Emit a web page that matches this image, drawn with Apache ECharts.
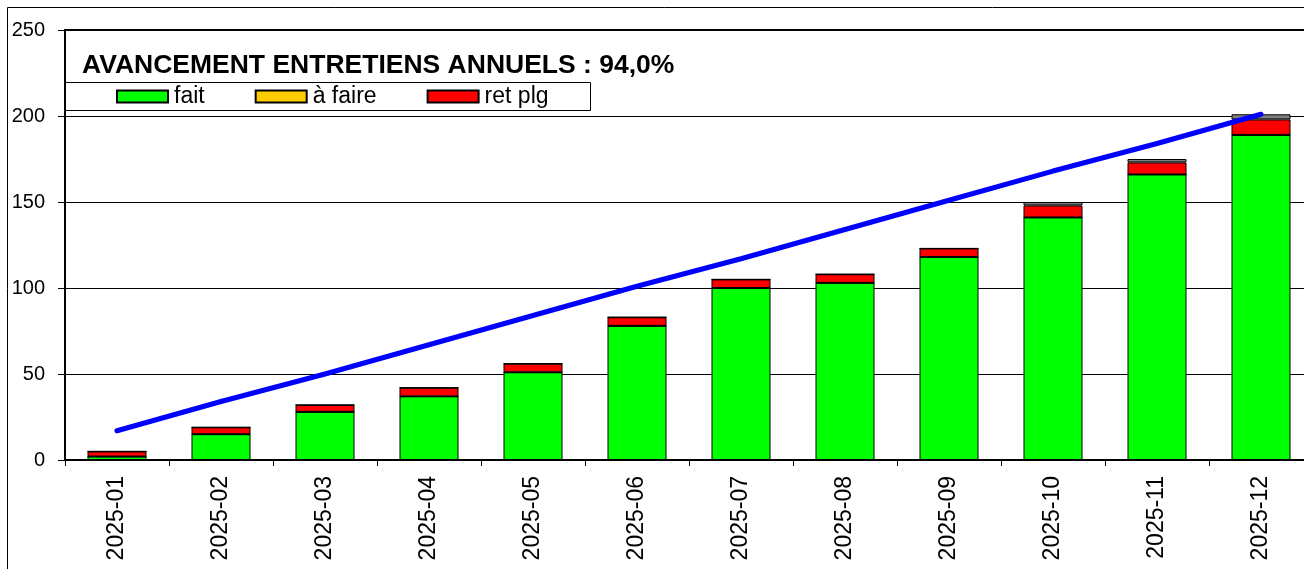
<!DOCTYPE html>
<html>
<head>
<meta charset="utf-8">
<script src="https://cdn.jsdelivr.net/npm/echarts@6/dist/echarts.min.js"></script>
<style>
  html, body { margin: 0; padding: 0; background: #fff; overflow: hidden; }
  /* le graphique déborde à droite comme dans l'original */
  #chart { width: 1320px; height: 569px; }
</style>
</head>
<body>
<div id="chart"></div>
<script>
// données
const mois = ["2025-01", "2025-02", "2025-03", "2025-04", "2025-05", "2025-06",
  "2025-07", "2025-08", "2025-09", "2025-10", "2025-11", "2025-12"];
const fait = [2, 15, 28, 37, 51, 78, 100, 103, 118, 141, 166, 189];
const aFaire = [0, 0, 0, 0, 0, 0, 0, 0, 0, 0, 0, 0];
const retPlg = [3, 4, 4, 5, 5, 5, 5, 5, 5, 7, 7, 9];
const autre = [0, 0, 0, 0, 0, 0, 0, 0, 0, 2, 2, 3];
const objectif = [17, 34, 50, 67, 84, 101, 117, 134, 151, 168, 184, 201];
const yTicks = { min: 0, max: 250, interval: 50 };

const FONT = "Liberation Sans";

const chart = echarts.init(document.getElementById("chart"));

// segment de barre empilée
const barSerie = (name, data, color) => ({
  name: name,
  type: "bar",
  stack: "total",
  data: data,
  barWidth: 59,
  itemStyle: { color: color, borderColor: "#000", borderWidth: 1 },
  emphasis: { disabled: true },
});

const option = {
  backgroundColor: "#fff",
  animation: false,
  textStyle: { fontFamily: FONT },
  title: {
    text: "AVANCEMENT ENTRETIENS ANNUELS : 94,0%",
    left: 82,
    top: 52,
    padding: 0,
    textStyle: { fontFamily: FONT, fontSize: 26.5, fontWeight: "bold", color: "#000" },
  },
  legend: {
    data: ["fait", "à faire", "ret plg"],
    icon: "rect",
    left: 65,
    top: 82,
    padding: [3, 40, 3, 51],
    itemWidth: 51,
    itemHeight: 12,
    itemGap: 50,
    selectedMode: false,
    textStyle: { fontFamily: FONT, fontSize: 23, color: "#000", padding: [0, 0, 0, 1] },
    z: 20,
  },
  graphic: [
    {
      type: "rect",
      shape: { x: 7.5, y: 7.5, width: 1400, height: 700 },
      style: { fill: null, stroke: "#000", lineWidth: 1 },
      silent: true,
      z: -10,
    },
    {
      type: "rect",
      shape: { x: 65.5, y: 82.5, width: 525, height: 28 },
      style: { fill: "#fff", stroke: "#000", lineWidth: 1 },
      silent: true,
      z: 15,
    },
  ],
  grid: {
    left: 65,
    top: 30,
    right: 7,
    bottom: 109,
    show: true,
    borderColor: "#000",
    borderWidth: 2,
    backgroundColor: "transparent",
  },
  xAxis: {
    type: "category",
    data: mois,
    boundaryGap: true,
    axisLine: { lineStyle: { color: "#000", width: 2 } },
    axisTick: { show: true, length: 6, lineStyle: { color: "#000" } },
    axisLabel: {
      rotate: 90,
      margin: 16,
      fontFamily: FONT,
      fontSize: 23,
      color: "#000",
      interval: 0,
    },
  },
  yAxis: {
    type: "value",
    min: yTicks.min,
    max: yTicks.max,
    interval: yTicks.interval,
    axisLine: { show: true, lineStyle: { color: "#000", width: 2 } },
    axisTick: { show: true, length: 7, lineStyle: { color: "#000" } },
    axisLabel: { margin: 20, fontFamily: FONT, fontSize: 20, color: "#000" },
    splitLine: { show: true, lineStyle: { color: "#000", width: 1 } },
  },
  series: [
    barSerie("fait", fait, "#00ff00"),
    barSerie("à faire", aFaire, "#ffcc00"),
    barSerie("ret plg", retPlg, "#ff0000"),
    barSerie("autre", autre, "#808080"),
    {
      name: "objectif",
      type: "line",
      data: objectif,
      symbol: "none",
      z: 5,
      lineStyle: { color: "#0000ff", width: 5, cap: "round" },
      itemStyle: { color: "#0000ff" },
      emphasis: { disabled: true },
    },
  ],
};

chart.setOption(option);
</script>
</body>
</html>
